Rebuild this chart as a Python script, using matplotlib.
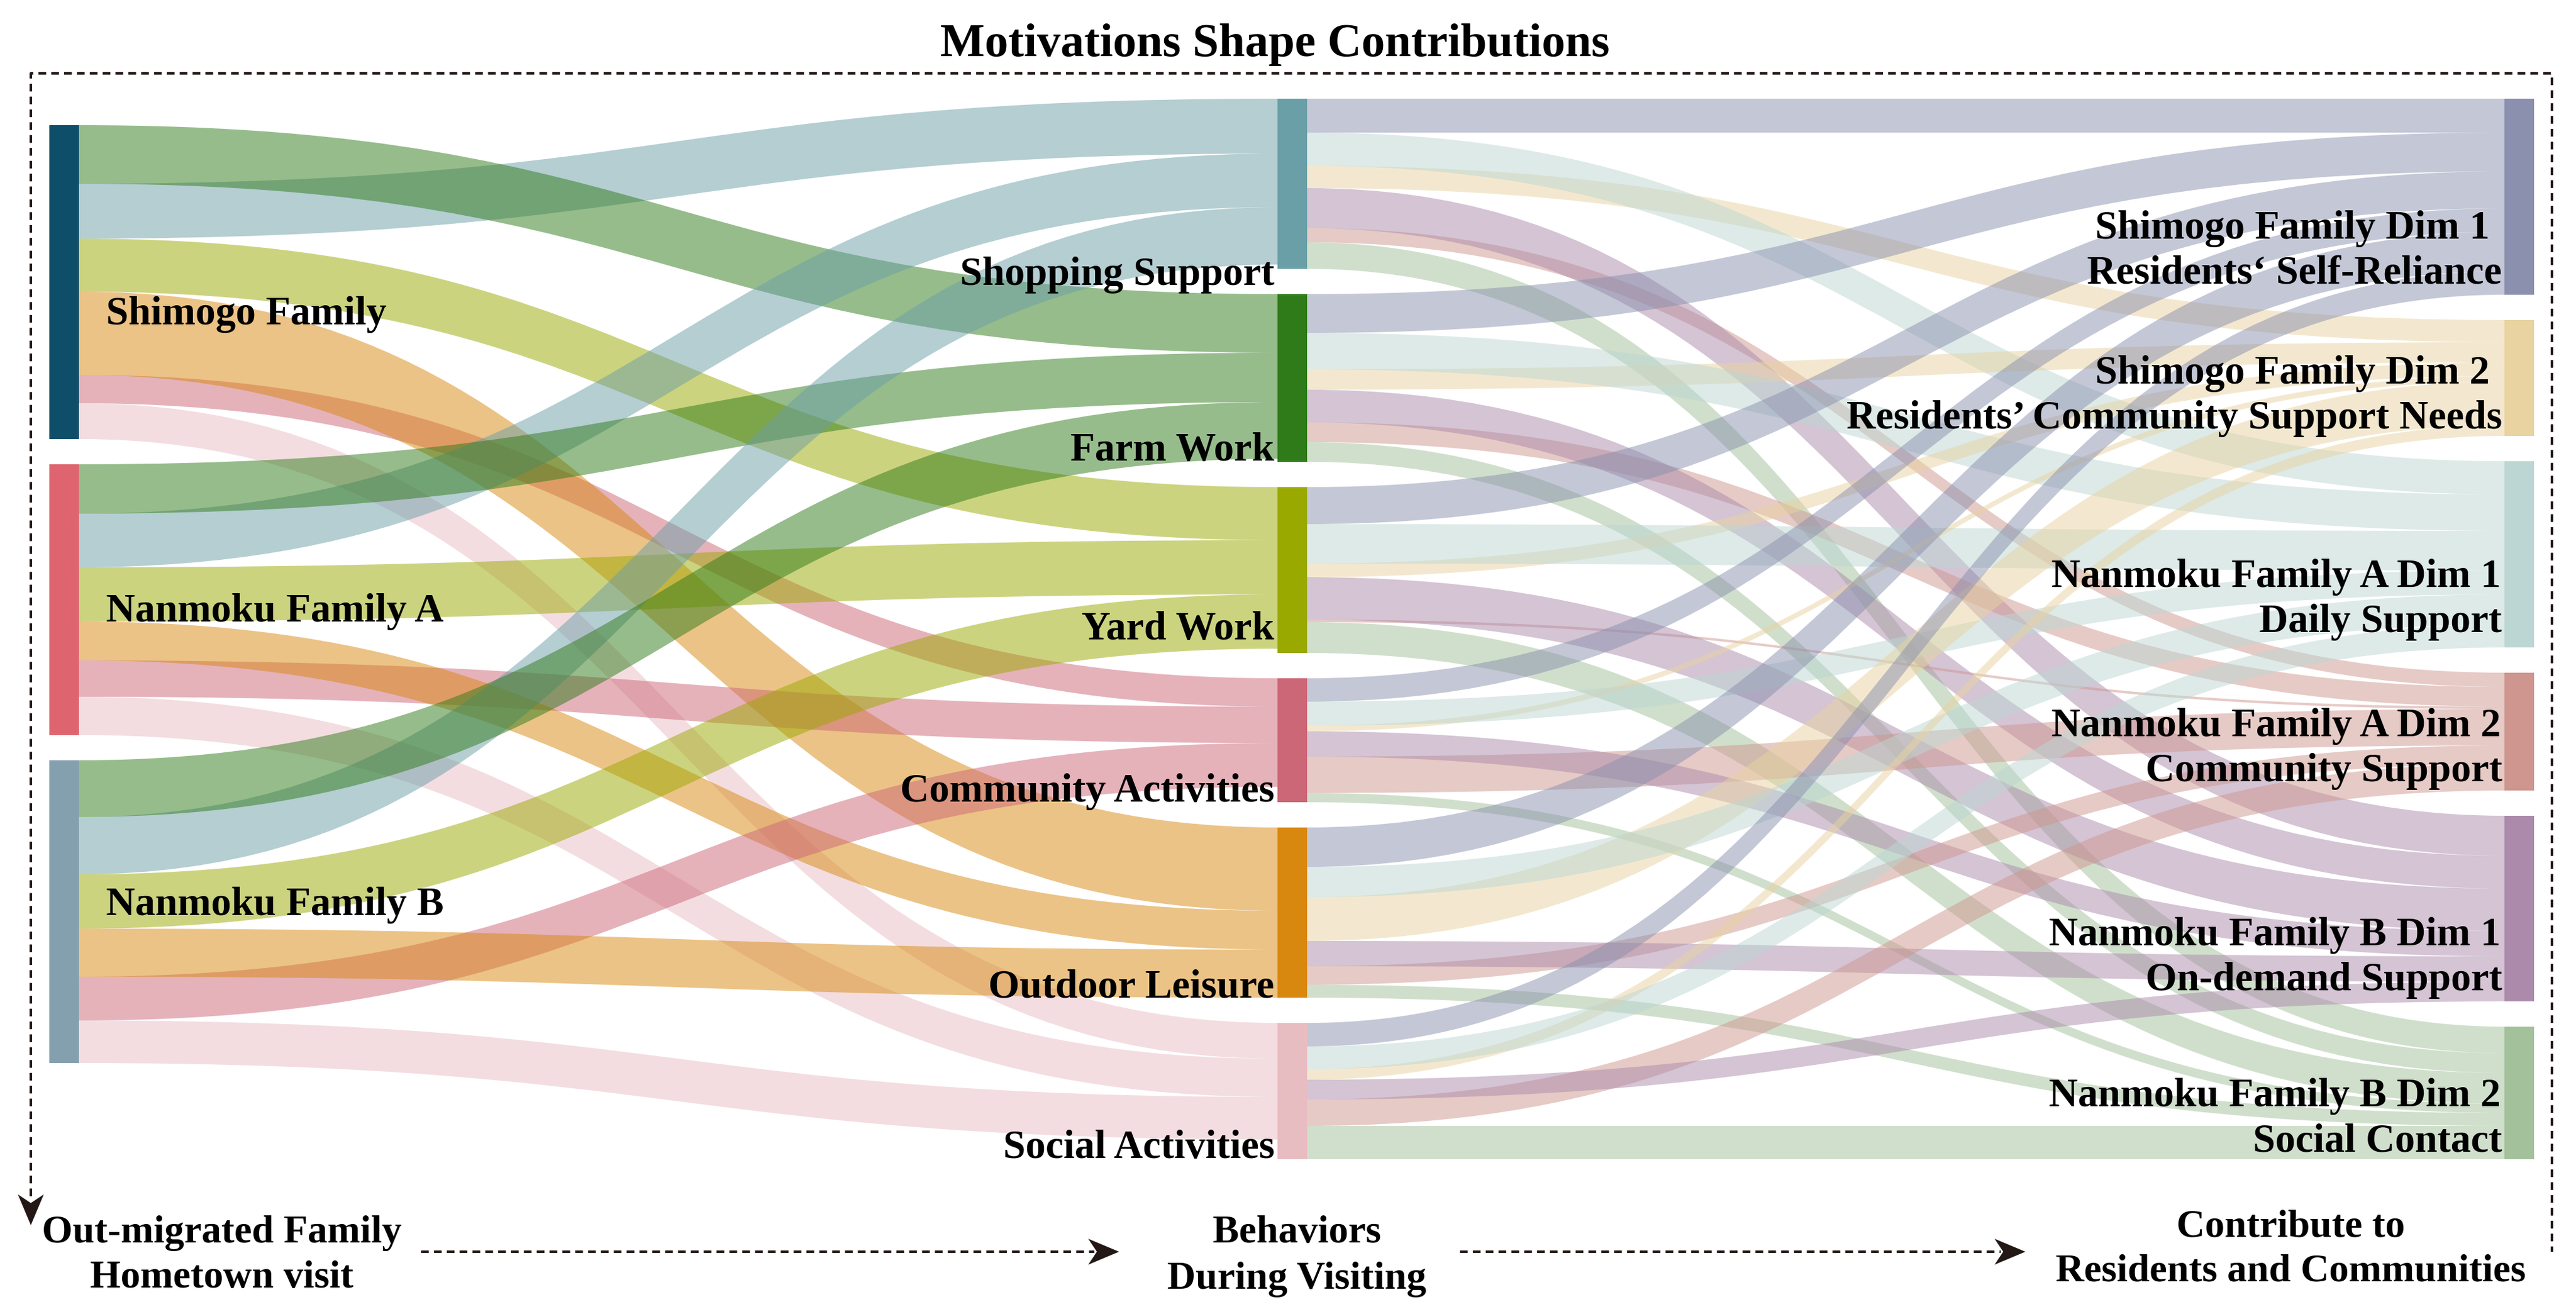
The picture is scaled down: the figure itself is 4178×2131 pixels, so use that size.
import numpy as np
import matplotlib
matplotlib.use('Agg')
from matplotlib import pyplot as plt
from matplotlib.path import Path
from matplotlib.patches import PathPatch, Rectangle, Polygon

plt.rcParams['font.family'] = ['Liberation Serif', 'DejaVu Serif']

families = ['Shimogo Family', 'Nanmoku Family A', 'Nanmoku Family B']
behaviors = ['Shopping Support', 'Farm Work', 'Yard Work',
             'Community Activities', 'Outdoor Leisure', 'Social Activities']
contributions = [
    ('Shimogo Family Dim 1', 'Residents\u2018 Self-Reliance'),
    ('Shimogo Family Dim 2', 'Residents\u2019 Community Support Needs'),
    ('Nanmoku Family A Dim 1', 'Daily Support'),
    ('Nanmoku Family A Dim 2', 'Community Support'),
    ('Nanmoku Family B Dim 1', 'On-demand Support'),
    ('Nanmoku Family B Dim 2', 'Social Contact'),
]

# family -> behavior (rows: families, cols: behaviors)
family_behavior = [
    [8.9, 9.5, 8.6, 4.6, 13.5, 5.8],
    [8.7, 8.0, 8.8, 5.9, 6.3, 6.2],
    [9.3, 9.2, 8.8, 7.1, 7.8, 6.9],
]
# behavior -> contribution (rows: behaviors, cols: contributions)
behavior_contribution = [
    [5.5, 3.6, 5.4, 2.3, 6.5, 4.3],
    [6.3, 3.3, 5.9, 3.2, 5.3, 3.2],
    [6.0, 2.2, 6.4, 0.4, 6.9, 5.0],
    [3.8, 0.9, 3.9, 5.9, 4.1, 1.5],
    [6.4, 7.1, 4.9, 3.0, 4.1, 2.1],
    [3.8, 1.7, 3.7, 4.3, 3.2, 5.4],
]

family_colors = ['#0f4e68', '#de6570', '#84a0ae']
behavior_colors = ['#6b9fa7', '#2f7a19', '#9aa900', '#cc6777', '#d9880f', '#e8bdc2']
contribution_colors = ['#8a90ae', '#e8d3a1', '#bcd7d3', '#cf968f', '#ab8aab', '#a3c19b']

# order of the outgoing bands at each node
family_out_order = [1, 0, 2, 4, 3, 5]
behavior_out_order = [0, 2, 1, 4, 3, 5]

# layout (pixels)
W, H = 4178, 2131
col_x = [80, 2072, 4062]
node_w = 48
col_top = [203, 160, 160]
gap = 41
px = 10.0
ink = '#231815'

fb = np.array(family_behavior)
bc = np.array(behavior_contribution)
fam_h = fb.sum(1) * px
beh_h = np.maximum(fb.sum(0), bc.sum(1)) * px
con_h = bc.sum(0) * px


def stack(heights, top):
    tops = top + np.concatenate([[0], np.cumsum(heights + gap)[:-1]])
    return tops


fam_top = stack(fam_h, col_top[0])
beh_top = stack(beh_h, col_top[1])
con_top = stack(con_h, col_top[2])


def band(ax, x0, y0, x1, y1, w, color):
    xm = (x0 + x1) / 2
    verts = [(x0, y0), (xm, y0), (xm, y1), (x1, y1),
             (x1, y1 + w), (xm, y1 + w), (xm, y0 + w), (x0, y0 + w), (x0, y0)]
    codes = [Path.MOVETO, Path.CURVE4, Path.CURVE4, Path.CURVE4,
             Path.LINETO, Path.CURVE4, Path.CURVE4, Path.CURVE4, Path.CLOSEPOLY]
    ax.add_patch(PathPatch(Path(verts, codes), facecolor=color, edgecolor='none',
                           alpha=0.5, zorder=1))


def links(ax, flows, src_top, dst_top, out_order, x0, x1, colors):
    n_src, n_dst = flows.shape
    src_y = np.zeros(flows.shape)
    for i in range(n_src):
        y = src_top[i]
        for j in out_order:
            src_y[i, j] = y
            y += flows[i, j] * px
    dst_y = np.zeros(flows.shape)
    for j in range(n_dst):
        y = dst_top[j]
        for i in range(n_src):
            dst_y[i, j] = y
            y += flows[i, j] * px
    for i in range(n_src):
        for j in range(n_dst):
            if flows[i, j] > 0:
                band(ax, x0, src_y[i, j], x1, dst_y[i, j], flows[i, j] * px, colors[j])


fig = plt.figure(figsize=(W / 100, H / 100), dpi=100)
ax = fig.add_axes([0, 0, 1, 1])
ax.set_xlim(0, W)
ax.set_ylim(H, 0)
ax.axis('off')

links(ax, fb, fam_top, beh_top, family_out_order, col_x[0] + node_w, col_x[1], behavior_colors)
links(ax, bc, beh_top, con_top, behavior_out_order, col_x[1] + node_w, col_x[2], contribution_colors)

for tops, hs, x, cols in [(fam_top, fam_h, col_x[0], family_colors),
                          (beh_top, beh_h, col_x[1], behavior_colors),
                          (con_top, con_h, col_x[2], contribution_colors)]:
    for t, h, c in zip(tops, hs, cols):
        ax.add_patch(Rectangle((x, t), node_w, h, facecolor=c, edgecolor='none', zorder=2))

label_kw = dict(fontsize=47, fontweight='bold', color='black', va='baseline', zorder=3)

fam_label_dy = [68, 35, 5]
for name, t, h, dy in zip(families, fam_top, fam_h, fam_label_dy):
    ax.text(col_x[0] + node_w + 44, t + h / 2 + dy, name, ha='left', **label_kw)

beh_label_dy = [26, -2, -22, -1, -1, -2]
for name, t, h, dy in zip(behaviors, beh_top, beh_h, beh_label_dy):
    ax.text(col_x[1] - 5, t + h + dy, name, ha='right', **label_kw)

con_label_dy = [-18, -12, -25, -15, -18, -13]
con_line1_pad = [22, 22, 4, 4, 4, 4]
for (l1, l2), t, h, dy, pad in zip(contributions, con_top, con_h, con_label_dy, con_line1_pad):
    ax.text(col_x[2] - 2 - pad, t + h + dy - 73, l1, ha='right', **label_kw)
    ax.text(col_x[2] - 4, t + h + dy, l2, ha='right', **label_kw)

# frame, title and stage arrows
ax.text(2068, 91, 'Motivations Shape Contributions', ha='center', va='baseline',
        fontsize=55, fontweight='bold')

dash = dict(color=ink, lw=3, ls=(0, (3, 2)), solid_capstyle='butt', zorder=3)
ax.plot([50, 50, 4139, 4139], [1940, 119, 119, 2030], **dash)
ax.plot([683, 1775], [2030, 2030], **dash)
ax.plot([2368, 3245], [2030, 2030], **dash)


def head(tip, direction, length=50, width=42, notch=14):
    d = np.array(direction, float)
    n = np.array([-d[1], d[0]])
    tip = np.array(tip, float)
    back = tip - d * length
    pts = [tip, back + n * width / 2, tip - d * (length - notch), back - n * width / 2]
    ax.add_patch(Polygon(pts, closed=True, facecolor=ink, edgecolor='none', zorder=4))


head((50, 1987), (0, 1))
head((1815, 2030), (1, 0))
head((3285, 2030), (1, 0))

stage_kw = dict(fontsize=46, fontweight='bold', ha='center', va='baseline')
ax.text(360, 2015, 'Out-migrated Family', **stage_kw)
ax.text(360, 2088, 'Hometown visit', **stage_kw)
ax.text(2103, 2015, 'Behaviors', **stage_kw)
ax.text(2103, 2090, 'During Visiting', **stage_kw)
ax.text(3715, 2005, 'Contribute to', **stage_kw)
ax.text(3715, 2077, 'Residents and Communities', **stage_kw)

fig.savefig('out.png', dpi=100, facecolor='white')
